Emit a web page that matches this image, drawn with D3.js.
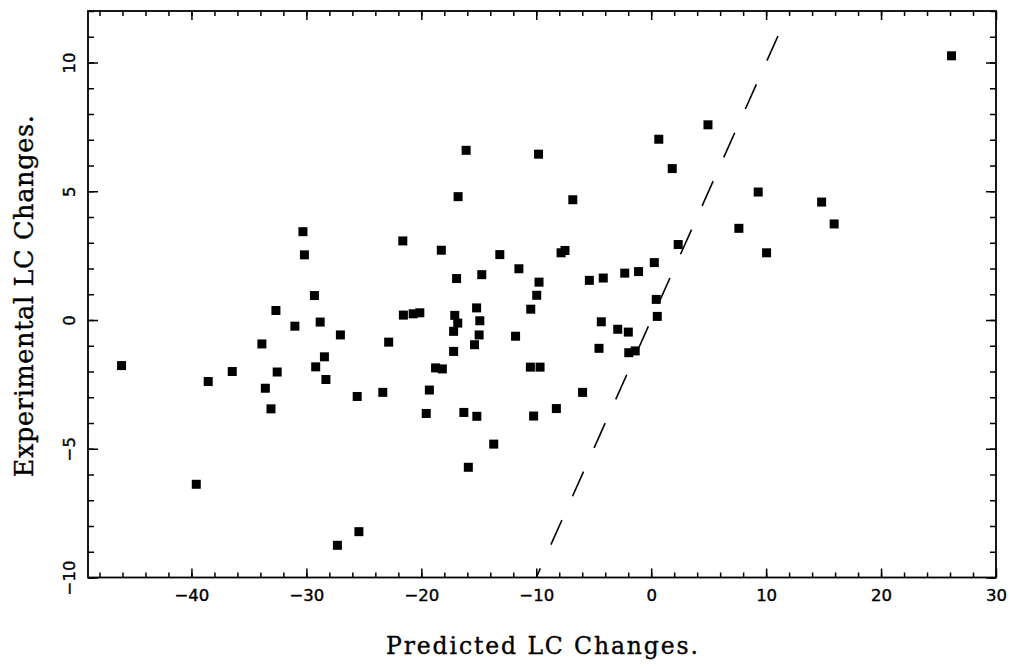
<!DOCTYPE html>
<html>
<head>
<meta charset="utf-8">
<script src="https://cdn.jsdelivr.net/npm/d3@7"></script>
<style>
  html, body { margin: 0; padding: 0; background: #fff; }
  svg { display: block; }
</style>
</head>
<body>
<div id="container"></div>
<script>
/* DATA */
const predicted = [-46.08, -39.58, -38.54, -36.45, -33.87, -33.57, -33.08, -32.65, -32.54, -31.0,
  -30.30, -30.17, -29.30, -29.19, -28.80, -28.43, -28.30, -27.30, -27.04, -25.58,
  -25.43, -23.35, -22.84, -21.61, -21.56, -20.71, -20.13, -19.57, -19.30, -18.76,
  -18.17, -18.26, -17.19, -17.19, -17.09, -16.93, -16.83, -16.80, -16.30, -16.10,
  -15.91, -15.37, -15.19, -15.17, -14.97, -14.91, -14.74, -13.70, -13.17, -11.80,
  -11.51, -10.51, -10.48, -10.23, -9.96, -9.80, -9.76, -9.67, -8.25, -7.84,
  -7.50, -6.82, -5.97, -5.38, -4.54, -4.34, -4.17, -2.91, -2.30, -1.99,
  -1.95, -1.39, -1.10, 0.27, 0.44, 0.53, 0.66, 1.83, 2.35, 4.94,
  7.63, 9.31, 10.04, 14.83, 15.92, 26.13];
const experimental = [-1.77, -6.38, -2.39, -2.00, -0.93, -2.65, -3.45, 0.37, -2.02, -0.24,
  3.43, 2.53, 0.95, -1.82, -0.08, -1.43, -2.31, -8.75, -0.58, -2.97,
  -8.22, -2.81, -0.86, 3.07, 0.19, 0.24, 0.28, -3.63, -2.72, -1.86,
  -1.90, 2.71, -0.44, -1.22, 0.18, 1.61, -0.12, 4.79, -3.59, 6.59,
  -5.72, -0.96, 0.47, -3.74, -0.58, -0.03, 1.76, -4.82, 2.54, -0.63,
  1.99, -1.83, 0.42, -3.73, 0.96, 6.44, 1.47, -1.83, -3.44, 2.61,
  2.70, 4.67, -2.81, 1.54, -1.10, -0.07, 1.63, -0.36, 1.82, -0.47,
  -1.27, -1.20, 1.88, 2.23, 0.80, 0.14, 7.02, 5.88, 2.93, 7.58,
  3.56, 4.97, 2.61, 4.58, 3.73, 10.26];

const xDomain = [-49, 30];
const yDomain = [-10, 12];
const xMajorTicks = [-40, -30, -20, -10, 0, 10, 20, 30];
const xMinorTicks = d3.range(-48, 30, 2);
const yMajorTicks = [-10, -5, 0, 5, 10];
const yMinorTicks = d3.range(-10, 13, 1);
const identityLine = [-10, 12]; // y = x reference

/* CONSTANTS */
const width = 1010, height = 669;
const frame = { left: 88, right: 996, top: 11, bottom: 577.5 };
const minus = v => (v < 0 ? "\u2212" + Math.abs(v) : String(v));

const svg = d3.select("#container")
  .append("svg")
  .attr("width", width)
  .attr("height", height);

const x = d3.scaleLinear().domain(xDomain).range([frame.left, frame.right]);
const y = d3.scaleLinear().domain(yDomain).range([frame.bottom, frame.top]);

// TICKS (all pointing inward)
function tickAxis(axis, tr) {
  const g = svg.append("g").attr("transform", tr).call(axis);
  g.select(".domain").remove();
  g.selectAll("line").attr("stroke", "#000").attr("stroke-width", 1.5);
  return g;
}

tickAxis(d3.axisBottom(x).tickValues(xMinorTicks).tickSize(-5).tickFormat(""), `translate(0,${frame.bottom})`);
tickAxis(d3.axisTop(x).tickValues(xMinorTicks).tickSize(-5).tickFormat(""), `translate(0,${frame.top})`);
tickAxis(d3.axisTop(x).tickValues(xMajorTicks).tickSize(-9).tickFormat(""), `translate(0,${frame.top})`);
const xAxis = tickAxis(d3.axisBottom(x).tickValues(xMajorTicks).tickSize(-9).tickPadding(0).tickFormat(minus),
  `translate(0,${frame.bottom})`);
xAxis.selectAll("text")
  .attr("y", 23)
  .attr("dy", 0)
  .style("font-family", "'DejaVu Sans', sans-serif")
  .style("font-size", "16.5px")
  .attr("fill", "#000")
  .attr("stroke", "#000")
  .attr("stroke-width", 0.4);

tickAxis(d3.axisLeft(y).tickValues(yMinorTicks).tickSize(-6).tickFormat(""), `translate(${frame.left},0)`);
tickAxis(d3.axisRight(y).tickValues(yMinorTicks).tickSize(-6).tickFormat(""), `translate(${frame.right},0)`);
tickAxis(d3.axisRight(y).tickValues(yMajorTicks).tickSize(-10).tickFormat(""), `translate(${frame.right},0)`);
const yAxis = tickAxis(d3.axisLeft(y).tickValues(yMajorTicks).tickSize(-10).tickFormat(minus),
  `translate(${frame.left},0)`);
yAxis.selectAll("text")
  .attr("transform", "rotate(-90)")
  .attr("x", 0)
  .attr("y", -13)
  .attr("dy", 0)
  .attr("text-anchor", "middle")
  .style("font-family", "'DejaVu Sans', sans-serif")
  .style("font-size", "16.5px")
  .attr("fill", "#000")
  .attr("stroke", "#000")
  .attr("stroke-width", 0.4);

// FRAME
svg.append("rect")
  .attr("x", frame.left).attr("y", frame.top)
  .attr("width", frame.right - frame.left).attr("height", frame.bottom - frame.top)
  .attr("fill", "none")
  .attr("stroke", "#000")
  .attr("stroke-width", 1.8);

// DASHED y = x LINE
svg.append("line")
  .attr("x1", x(identityLine[0])).attr("y1", y(identityLine[0]))
  .attr("x2", x(identityLine[1])).attr("y2", y(identityLine[1]))
  .attr("stroke", "#000")
  .attr("stroke-width", 1.6)
  .attr("stroke-dasharray", "27,26")
  .attr("stroke-dashoffset", 17);

// POINTS
const pts = predicted.map((p, i) => ({ p, e: experimental[i] }));
const s = 9;
svg.selectAll("rect.pt")
  .data(pts)
  .join("rect")
  .attr("class", "pt")
  .attr("x", d => x(d.p) - s / 2)
  .attr("y", d => y(d.e) - s / 2)
  .attr("width", s)
  .attr("height", s)
  .attr("fill", "#000");

// AXIS TITLES (serif, typewriter-like spacing)
svg.append("text")
  .attr("x", (frame.left + frame.right) / 2)
  .attr("y", 654)
  .attr("text-anchor", "middle")
  .attr("textLength", 312)
  .attr("lengthAdjust", "spacing")
  .style("font-family", "'DejaVu Serif', serif")
  .style("font-size", "23.5px")
  .attr("fill", "#000")
  .attr("stroke", "#000")
  .attr("stroke-width", 0.35)
  .text("Predicted LC Changes.");

svg.append("text")
  .attr("transform", `translate(33,${(frame.top + frame.bottom) / 2 + 2}) rotate(-90)`)
  .attr("text-anchor", "middle")
  .attr("textLength", 362)
  .attr("lengthAdjust", "spacing")
  .style("font-family", "'DejaVu Serif', serif")
  .style("font-size", "25.5px")
  .attr("fill", "#000")
  .attr("stroke", "#000")
  .attr("stroke-width", 0.35)
  .text("Experimental LC Changes.");
</script>
</body>
</html>
